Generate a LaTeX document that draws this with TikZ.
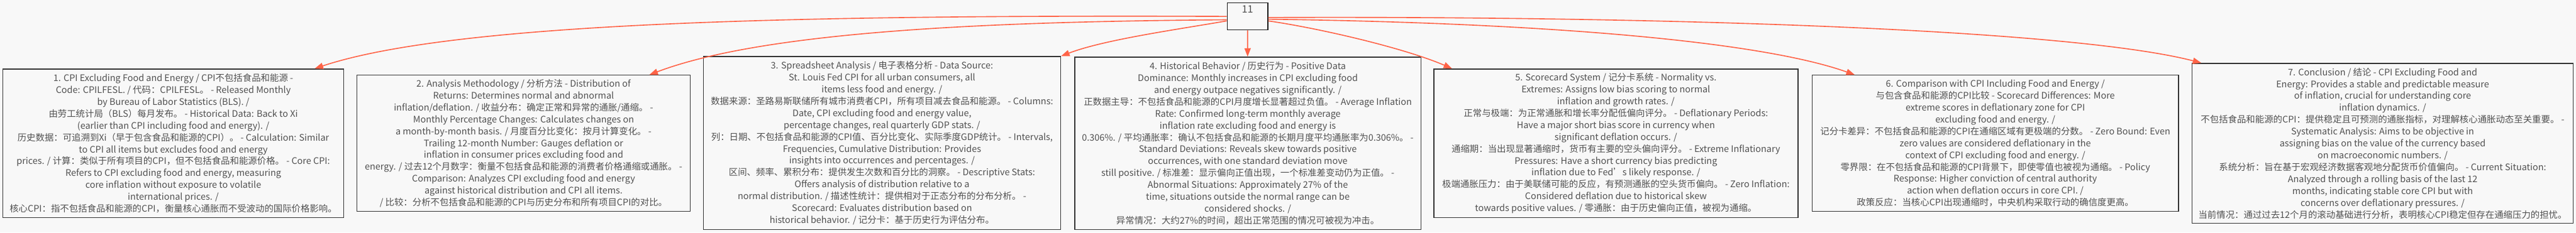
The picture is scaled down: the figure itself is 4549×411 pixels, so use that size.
\documentclass[tikz,border=0pt]{standalone}
\usepackage{fontspec}
\setmainfont{Noto Sans CJK SC}
\usepackage{xcolor}
\definecolor{paper}{HTML}{F8F8F8}
\definecolor{tomato}{HTML}{FF6347}
\definecolor{ink}{HTML}{505050}
\definecolor{frame}{HTML}{333333}
\usepackage{tikz}
\usetikzlibrary{arrows.meta}
\tikzset{
    card/.style = {rectangle, draw=frame, fill=paper, line width=1.5pt,
                   align=center, inner sep=2pt, text=ink,
                   font=\fontsize{16}{21}\selectfont},
    hub/.style = {rectangle, draw=black!90, fill=paper, line width=1.5pt,
                  minimum width=72, minimum height=48, inner sep=0pt,
                  text depth=25pt, text=ink, font=\fontsize{18}{20}\selectfont},
    link/.style = {-{Triangle[length=15pt,width=11pt]}, line width=1.8pt, color=tomato},
}

\begin{document}
\begin{tikzpicture}[x=1pt, y=-1pt]
        % canvas
        \path[use as bounding box, fill=paper] (0,0) rectangle (4549,411);
        % root
        \node[hub] (n11) at (2203,29) {11};
        % sections
        \node[card, minimum width=602, minimum height=263] (s1) at (306,253.5) {1. CPI Excluding Food and Energy / CPI不包括食品和能源 -\\
Code: CPILFESL. / 代码：CPILFESL。 - Released Monthly\\
by Bureau of Labor Statistics (BLS). /\\
由劳工统计局（BLS）每月发布。 - Historical Data: Back to Xi\\
(earlier than CPI including food and energy). /\\
历史数据：可追溯到Xi（早于包含食品和能源的CPI）。 - Calculation: Similar\\
to CPI all items but excludes food and energy\\
prices. / 计算：类似于所有项目的CPI，但不包括食品和能源价格。 - Core CPI:\\
Refers to CPI excluding food and energy, measuring\\
core inflation without exposure to volatile\\
international prices. /\\
核心CPI：指不包括食品和能源的CPI，衡量核心通胀而不受波动的国际价格影响。};
        \node[card, minimum width=589, minimum height=241] (s2) at (924.5,253.5) {2. Analysis Methodology / 分析方法 - Distribution of\\
Returns: Determines normal and abnormal\\
inflation/deflation. / 收益分布：确定正常和异常的通胀/通缩。 -\\
Monthly Percentage Changes: Calculates changes on\\
a month-by-month basis. / 月度百分比变化：按月计算变化。 -\\
Trailing 12-month Number: Gauges deflation or\\
inflation in consumer prices excluding food and\\
energy. / 过去12个月数字：衡量不包括食品和能源的消费者价格通缩或通胀。 -\\
Comparison: Analyzes CPI excluding food and energy\\
against historical distribution and CPI all items.\\
/ 比较：分析不包括食品和能源的CPI与历史分布和所有项目CPI的对比。};
        \node[card, minimum width=631, minimum height=306] (s3) at (1557.5,253) {3. Spreadsheet Analysis / 电子表格分析 - Data Source:\\
St. Louis Fed CPI for all urban consumers, all\\
items less food and energy. /\\
数据来源：圣路易斯联储所有城市消费者CPI，所有项目减去食品和能源。 - Columns:\\
Date, CPI excluding food and energy value,\\
percentage changes, real quarterly GDP stats. /\\
列：日期、不包括食品和能源的CPI值、百分比变化、实际季度GDP统计。 - Intervals,\\
Frequencies, Cumulative Distribution: Provides\\
insights into occurrences and percentages. /\\
区间、频率、累积分布：提供发生次数和百分比的洞察。 - Descriptive Stats:\\
Offers analysis of distribution relative to a\\
normal distribution. / 描述性统计：提供相对于正态分布的分布分析。 -\\
Scorecard: Evaluates distribution based on\\
historical behavior. / 记分卡：基于历史行为评估分布。};
        \node[card, minimum width=611, minimum height=305] (s4) at (2203.5,253.5) {4. Historical Behavior / 历史行为 - Positive Data\\
Dominance: Monthly increases in CPI excluding food\\
and energy outpace negatives significantly. /\\
正数据主导：不包括食品和能源的CPI月度增长显著超过负值。 - Average Inflation\\
Rate: Confirmed long-term monthly average\\
inflation rate excluding food and energy is\\
0.306\%. / 平均通胀率：确认不包括食品和能源的长期月度平均通胀率为0.306\%。 -\\
Standard Deviations: Reveals skew towards positive\\
occurrences, with one standard deviation move\\
still positive. / 标准差：显示偏向正值出现，一个标准差变动仍为正值。 -\\
Abnormal Situations: Approximately 27\% of the\\
time, situations outside the normal range can be\\
considered shocks. /\\
异常情况：大约27\%的时间，超出正常范围的情况可被视为冲击。};
        \node[card, minimum width=643, minimum height=263] (s5) at (2853.5,253.5) {5. Scorecard System / 记分卡系统 - Normality vs.\\
Extremes: Assigns low bias scoring to normal\\
inflation and growth rates. /\\
正常与极端：为正常通胀和增长率分配低偏向评分。 - Deflationary Periods:\\
Have a major short bias score in currency when\\
significant deflation occurs. /\\
通缩期：当出现显著通缩时，货币有主要的空头偏向评分。 - Extreme Inflationary\\
Pressures: Have a short currency bias predicting\\
inflation due to Fed's likely response. /\\
极端通胀压力：由于美联储可能的反应，有预测通胀的空头货币偏向。 - Zero Inflation:\\
Considered deflation due to historical skew\\
towards positive values. / 零通胀：由于历史偏向正值，被视为通缩。};
        \node[card, minimum width=647, minimum height=241] (s6) at (3523.5,253.5) {6. Comparison with CPI Including Food and Energy /\\
与包含食品和能源的CPI比较 - Scorecard Differences: More\\
extreme scores in deflationary zone for CPI\\
excluding food and energy. /\\
记分卡差异：不包括食品和能源的CPI在通缩区域有更极端的分数。 - Zero Bound: Even\\
zero values are considered deflationary in the\\
context of CPI excluding food and energy. /\\
零界限：在不包括食品和能源的CPI背景下，即使零值也被视为通缩。 - Policy\\
Response: Higher conviction of central authority\\
action when deflation occurs in core CPI. /\\
政策反应：当核心CPI出现通缩时，中央机构采取行动的确信度更高。};
        \node[card, minimum width=673, minimum height=283] (s7) at (4207.5,253.5) {7. Conclusion / 结论 - CPI Excluding Food and\\
Energy: Provides a stable and predictable measure\\
of inflation, crucial for understanding core\\
inflation dynamics. /\\
不包括食品和能源的CPI：提供稳定且可预测的通胀指标，对理解核心通胀动态至关重要。 -\\
Systematic Analysis: Aims to be objective in\\
assigning bias on the value of the currency based\\
on macroeconomic numbers. /\\
系统分析：旨在基于宏观经济数据客观地分配货币价值偏向。 - Current Situation:\\
Analyzed through a rolling basis of the last 12\\
months, indicating stable core CPI but with\\
concerns over deflationary pressures. /\\
当前情况：通过过去12个月的滚动基础进行分析，表明核心CPI稳定但存在通缩压力的担忧。};
        % edges
        \draw[link] (n11.west) .. controls (1400,26) and (800,40) .. ([xshift=-52pt]s1.north east);
        \draw[link] ([yshift=-6pt]n11.west) .. controls (1750,38) and (1350,55) .. ([xshift=-73pt]s2.north east);
        \draw[link] ([yshift=-8pt]n11.west) .. controls (2080,52) and (1950,70) .. (s3.north east);
        \draw[link] (n11) -- (s4);
        \draw[link] ([yshift=-8pt]n11.east) .. controls (2330,50) and (2480,85) .. ([xshift=33pt]s5.north west);
        \draw[link] ([yshift=-5pt]n11.east) .. controls (2700,40) and (3100,70) .. ([xshift=76pt]s6.north west);
        \draw[link] ([yshift=-2pt]n11.east) .. controls (2900,28) and (3650,50) .. ([xshift=17pt]s7.north west);
      \end{tikzpicture}
\end{document}
